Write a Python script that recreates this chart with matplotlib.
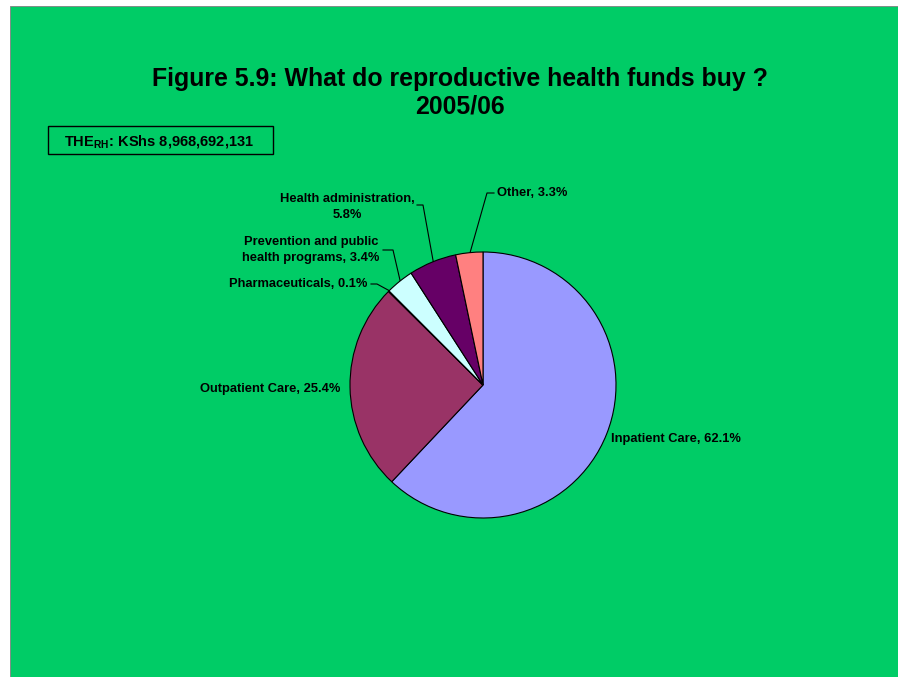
import matplotlib
matplotlib.use("Agg")
import matplotlib.pyplot as plt
from matplotlib.patches import Rectangle
import numpy as np

plt.rcParams["font.family"] = ["Liberation Sans", "DejaVu Sans"]
plt.rcParams["mathtext.fontset"] = "custom"
plt.rcParams["mathtext.rm"] = "Liberation Sans:bold"
plt.rcParams["mathtext.bf"] = "Liberation Sans:bold"
plt.rcParams["mathtext.default"] = "bf"

# Spending categories and their shares (%), clockwise from 12 o'clock
categories = ["Inpatient Care", "Outpatient Care", "Pharmaceuticals",
              "Prevention and public\nhealth programs", "Health administration",
              "Other"]
shares = [62.1, 25.4, 0.1, 3.4, 5.8, 3.3]
colors = ["#9999FF", "#993366", "#FFFFCC", "#CCFFFF", "#660066", "#FF8080"]

title_lines = ["Figure 5.9: What do reproductive health funds buy ?", "2005/06"]
total_label = "THE$_{RH}$: KShs 8,968,692,131"

W, H = 898, 677
BG = "#00CC66"

fig = plt.figure(figsize=(W / 100, H / 100), dpi=100)
fig.patch.set_facecolor("white")

# overlay axes in pixel coordinates (y down) for background, text and leaders
ov = fig.add_axes([0, 0, 1, 1])
ov.set_xlim(0, W)
ov.set_ylim(H, 0)
ov.axis("off")
ov.add_patch(Rectangle((10, 6), W - 10, H - 6, facecolor=BG, edgecolor="#808080",
                       linewidth=0.6, zorder=0))

# pie axes: centre (483, 385), radius 133 px
cx, cy, r = 483, 385, 133
pa = fig.add_axes([(cx - r) / W, (H - cy - r) / H, 2 * r / W, 2 * r / H])
pa.set_zorder(2)
wedges, _ = pa.pie(shares, colors=colors, startangle=90, counterclock=False,
                   radius=1.0,
                   wedgeprops=dict(edgecolor="black", linewidth=0.8))
pa.set_xlim(-1, 1)
pa.set_ylim(-1, 1)
pa.set_aspect("equal")
pa.axis("off")
pa.patch.set_alpha(0)

# title
ov.text(460, 79, title_lines[0], ha="center", va="center", fontsize=17.9,
        fontweight="bold")
ov.text(460, 106, title_lines[1], ha="center", va="center", fontsize=17.9,
        fontweight="bold")

# total expenditure box
ov.add_patch(Rectangle((48, 126), 225, 28, facecolor="none", edgecolor="black",
                       linewidth=1.0, zorder=3))
ov.text(159, 141, total_label, ha="center", va="center", fontsize=10.5,
        fontweight="bold", zorder=4)

fs = 9.3
labels = [f"{c}, {s}%" for c, s in zip(categories, shares)]
labels[4] = f"{categories[4]},\n{shares[4]}%"
labels[3] = f"{categories[3].splitlines()[0]}\n{categories[3].splitlines()[1]}, {shares[3]}%"

# mid-angle of each wedge in degrees (clockwise from 90)
cum = np.cumsum([0] + shares)
mids = 90 - 3.6 * (cum[:-1] + cum[1:]) / 2


def rim(angle):
    a = np.deg2rad(angle)
    return cx + r * np.cos(a), cy - r * np.sin(a)


# Inpatient and Outpatient labels (no leaders)
ov.text(611, 439, labels[0], ha="left", va="center", fontsize=fs, fontweight="bold")
ov.text(340, 389, labels[1], ha="right", va="center", fontsize=fs, fontweight="bold")

# Pharmaceuticals
x0, y0 = rim(mids[2])
ov.plot([x0, 377, 371], [y0, 284, 284], color="black", lw=0.8)
ov.text(367, 284, labels[2], ha="right", va="center", fontsize=fs, fontweight="bold")

# Prevention
x0, y0 = rim(mids[3])
ov.plot([x0, 393, 383], [y0, 250, 250], color="black", lw=0.8)
ov.text(311, 250, labels[3], ha="center", va="center", fontsize=fs,
        fontweight="bold", linespacing=1.4)

# Health administration
x0, y0 = rim(mids[4])
ov.plot([x0, 423, 417], [y0, 205, 205], color="black", lw=0.8)
ov.text(347, 207, labels[4], ha="center", va="center", fontsize=fs,
        fontweight="bold", linespacing=1.35)

# Other
x0, y0 = rim(mids[5])
ov.plot([x0, 487, 494], [y0, 193, 193], color="black", lw=0.8)
ov.text(497, 193, labels[5], ha="left", va="center", fontsize=fs, fontweight="bold")

fig.savefig("out.png", dpi=100, facecolor=fig.get_facecolor())
